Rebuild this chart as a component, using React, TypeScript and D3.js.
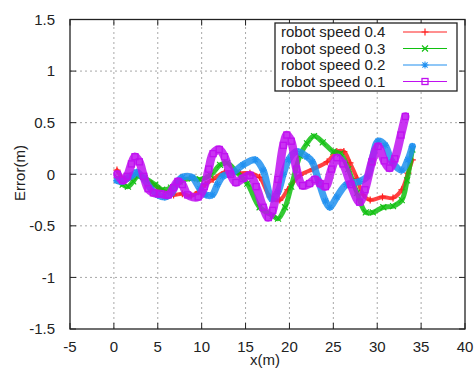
import React from "react";
import * as d3 from "d3";

const W = 474;
const H = 369;
const margin = { top: 19.5, right: 9, bottom: 40, left: 70 };

const xTicks = [-5, 0, 5, 10, 15, 20, 25, 30, 35, 40];
const yTicks = [-1.5, -1, -0.5, 0, 0.5, 1, 1.5];

// robot speed 0.4 (red)
const speed04: [number, number][] = [
  [0.35, 0.04], [1.3, -0.06], [2.0, -0.03], [2.6, 0.0], [3.3, -0.03], [4.3, -0.09],
  [5.2, -0.14], [6.2, -0.18], [6.8, -0.2], [7.8, -0.19], [8.8, -0.21], [9.6, -0.17],
  [10.4, -0.1], [11.3, -0.05], [12.6, 0.02], [14.4, 0.01], [15.5, 0.01], [16.6, -0.03],
  [17.8, -0.22], [18.9, -0.25], [19.8, -0.15], [21.2, -0.01], [22.7, 0.05], [24.3, 0.12],
  [25.4, 0.22], [26.2, 0.22], [26.9, 0.11], [27.7, -0.04], [28.4, -0.2], [29.2, -0.25],
  [30.6, -0.22], [31.8, -0.23], [32.8, -0.15], [33.5, 0.01], [34.0, 0.14]
];

// robot speed 0.3 (green)
const speed03: [number, number][] = [
  [0.5, -0.04], [1.0, -0.1], [1.6, -0.12], [2.2, -0.07], [2.7, -0.02], [3.5, -0.04],
  [4.7, -0.1], [5.5, -0.15], [6.5, -0.13], [7.5, -0.07], [8.9, -0.04], [9.8, -0.05],
  [11.0, -0.01], [12.1, 0.09], [12.9, 0.11], [14.0, 0.02], [15.2, -0.09], [16.6, -0.32],
  [18.1, -0.4], [18.7, -0.43], [19.5, -0.32], [20.2, -0.12], [21.2, 0.18], [22.0, 0.3],
  [22.8, 0.37], [23.8, 0.31], [25.0, 0.22], [25.8, 0.2], [26.7, 0.05], [27.7, -0.18],
  [28.7, -0.37], [29.5, -0.37], [30.7, -0.32], [31.8, -0.31], [32.8, -0.25], [33.4, -0.06],
  [34.0, 0.24]
];

// robot speed 0.2 (blue)
const speed02: [number, number][] = [
  [0.35, -0.06], [0.9, -0.07], [1.5, -0.04], [2.1, -0.01], [2.6, 0.02], [3.3, -0.03],
  [4.3, -0.15], [5.0, -0.2], [5.8, -0.22], [6.6, -0.18], [7.2, -0.08], [7.8, -0.03],
  [8.9, -0.03], [9.8, -0.14], [10.5, -0.2], [11.2, -0.2], [11.8, -0.1], [12.4, -0.02],
  [13.6, 0.02], [14.7, 0.09], [16.1, 0.14], [17.0, 0.04], [18.0, -0.24], [18.7, -0.17],
  [19.3, 0.0], [19.9, 0.14], [20.8, 0.22], [22.0, 0.17], [22.6, 0.12], [23.3, -0.06],
  [24.1, -0.26], [24.6, -0.32], [25.4, -0.22], [26.5, -0.1], [28.0, -0.07], [28.9, -0.02],
  [29.4, 0.14], [30.1, 0.32], [30.9, 0.28], [31.7, 0.12], [32.8, 0.04], [33.5, 0.14],
  [34.0, 0.27]
];

// robot speed 0.1 (purple)
const speed01: [number, number][] = [
  [0.4, 0.0], [1.0, -0.06], [1.5, -0.02], [2.0, 0.1], [2.4, 0.17], [2.9, 0.12],
  [3.4, -0.02], [3.9, -0.14], [4.5, -0.18], [5.3, -0.19], [6.2, -0.2], [6.8, -0.13],
  [7.3, -0.07], [7.8, -0.1], [8.4, -0.2], [9.6, -0.22], [10.3, -0.12], [10.8, 0.05],
  [11.3, 0.2], [12.0, 0.24], [12.6, 0.17], [13.3, 0.0], [13.9, -0.08], [14.7, -0.04],
  [15.5, -0.01], [16.2, -0.12], [17.0, -0.32], [17.6, -0.42], [18.1, -0.35], [18.7, -0.05],
  [19.3, 0.28], [19.7, 0.38], [20.2, 0.32], [20.8, 0.05], [21.5, -0.11], [22.3, -0.09],
  [22.9, -0.05], [23.5, -0.09], [24.1, -0.12], [24.8, 0.05], [25.4, 0.16], [26.1, 0.1],
  [27.0, -0.1], [28.0, -0.27], [28.6, -0.15], [29.4, 0.12], [30.1, 0.27], [30.8, 0.13],
  [31.4, 0.06], [32.0, 0.15], [32.7, 0.38], [33.2, 0.56]
];

const series = [
  { name: "robot speed 0.4", data: speed04, color: "#ff2020", width: 4, marker: "plus" },
  { name: "robot speed 0.3", data: speed03, color: "#10c010", width: 5, marker: "cross" },
  { name: "robot speed 0.2", data: speed02, color: "#2090f0", width: 7, marker: "star" },
  { name: "robot speed 0.1", data: speed01, color: "#c010f0", width: 8.5, marker: "square" }
];

const font = "'Liberation Sans', Arial, sans-serif";

function Marker({ type, x, y, color }: { type: string; x: number; y: number; color: string }) {
  const s = 3.5;
  if (type === "plus")
    return <path d={`M${x - s},${y}H${x + s}M${x},${y - s}V${y + s}`} stroke={color} strokeWidth={1.2} />;
  if (type === "cross")
    return <path d={`M${x - 3},${y - 3}L${x + 3},${y + 3}M${x - 3},${y + 3}L${x + 3},${y - 3}`} stroke={color} strokeWidth={1.1} />;
  if (type === "star")
    return (
      <path
        d={`M${x - s},${y}H${x + s}M${x},${y - s}V${y + s}M${x - 2.6},${y - 2.6}L${x + 2.6},${y + 2.6}M${x - 2.6},${y + 2.6}L${x + 2.6},${y - 2.6}`}
        stroke={color}
        strokeWidth={1.1}
      />
    );
  return <rect x={x - 3} y={y - 3} width={6} height={6} fill="none" stroke={color} strokeWidth={1.3} />;
}

export default function App() {
  const x = d3.scaleLinear().domain([-5, 40]).range([margin.left, W - margin.right]);
  const y = d3.scaleLinear().domain([-1.5, 1.5]).range([H - margin.bottom, margin.top]);
  const line = d3
    .line<[number, number]>()
    .x(d => x(d[0]))
    .y(d => y(d[1]))
    .curve(d3.curveCatmullRom.alpha(0.5));

  const x0 = x(-5), x1 = x(40), y0 = y(-1.5), y1 = y(1.5);
  const legend = { x: 275, y: 23, w: 182, h: 68, row: 16.5 };

  return (
    <svg width={W} height={H} style={{ position: "absolute", left: 0, top: 0, background: "#fff" }}>
      <defs>
        <clipPath id="plot">
          <rect x={x0} y={y1} width={x1 - x0} height={y0 - y1} />
        </clipPath>
      </defs>
      <rect width={W} height={H} fill="#fff" />
      {/* grid */}
      <g stroke="#a8a8a8" strokeWidth={1} strokeDasharray="2,3">
        {xTicks.slice(1, -1).map(t => (
          <line key={"gx" + t} x1={x(t)} x2={x(t)} y1={y0} y2={y1} />
        ))}
        {yTicks.slice(1, -1).map(t => (
          <line key={"gy" + t} x1={x0} x2={x1} y1={y(t)} y2={y(t)} />
        ))}
      </g>
      {/* series */}
      <g clipPath="url(#plot)">
        {series.map(s => (
          <g key={s.name}>
            <path d={line(s.data) || ""} fill="none" stroke={s.color} strokeWidth={s.width} strokeOpacity={0.85} strokeLinejoin="round" strokeLinecap="round" />
            {s.data.map((d, i) => (
              <Marker key={i} type={s.marker} x={x(d[0])} y={y(d[1])} color={s.color} />
            ))}
          </g>
        ))}
      </g>
      {/* ticks */}
      <g stroke="#222" strokeWidth={1}>
        {xTicks.map(t => (
          <g key={"tx" + t}>
            <line x1={x(t)} x2={x(t)} y1={y0} y2={y0 - 6} />
            <line x1={x(t)} x2={x(t)} y1={y1} y2={y1 + 6} />
          </g>
        ))}
        {yTicks.map(t => (
          <g key={"ty" + t}>
            <line x1={x0} x2={x0 + 6} y1={y(t)} y2={y(t)} />
            <line x1={x1} x2={x1 - 6} y1={y(t)} y2={y(t)} />
          </g>
        ))}
      </g>
      <rect x={x0} y={y1} width={x1 - x0} height={y0 - y1} fill="none" stroke="#222" strokeWidth={1.3} />
      {/* tick labels */}
      <g fontFamily={font} fontSize={15} fill="#222">
        {xTicks.map(t => (
          <text key={"lx" + t} x={x(t)} y={y0 + 23} textAnchor="middle">
            {String(t)}
          </text>
        ))}
        {yTicks.map(t => (
          <text key={"ly" + t} x={x0 - 15} y={y(t)} dy="0.35em" textAnchor="end">
            {String(t)}
          </text>
        ))}
        <text x={265} y={365} textAnchor="middle">x(m)</text>
        <text transform="translate(25,173) rotate(-90)" textAnchor="middle">Error(m)</text>
      </g>
      {/* legend */}
      <rect x={legend.x} y={legend.y} width={legend.w} height={legend.h} fill="#fff" stroke="#222" strokeWidth={1.3} />
      {series.map((s, i) => {
        const cy = legend.y + 9 + i * legend.row;
        return (
          <g key={"lg" + s.name}>
            <text x={legend.x + 6} y={cy} dy="0.35em" fontFamily={font} fontSize={15} fill="#222">
              {s.name}
            </text>
            <line x1={403} x2={447} y1={cy} y2={cy} stroke={s.color} strokeWidth={1.2} />
            <Marker type={s.marker} x={425} y={cy} color={s.color} />
          </g>
        );
      })}
    </svg>
  );
}
